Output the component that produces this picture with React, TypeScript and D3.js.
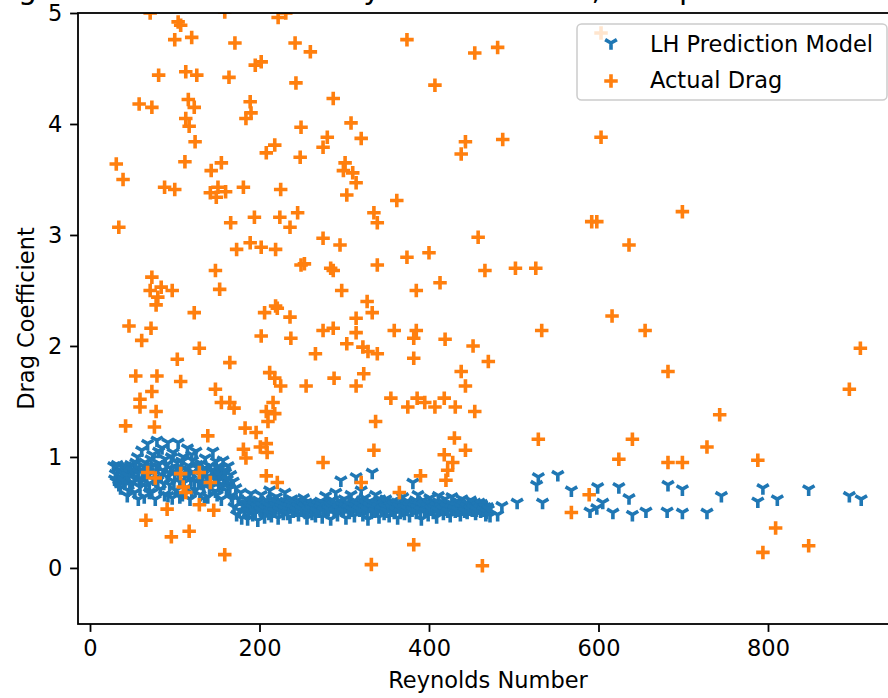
import React, { useRef, useEffect } from "react";
import * as d3 from "d3";

// LH prediction model: [Reynolds number, drag coefficient]
const lhPrediction: [number, number][] = [
  [28, 0.92], [30, 0.85], [31, 0.78], [33, 0.88], [35, 0.8], [36, 0.72], [38, 0.91], [40, 0.84],
  [41, 0.76], [43, 0.89], [45, 0.7], [46, 0.82], [48, 0.93], [50, 0.77], [51, 0.86], [53, 0.68],
  [55, 0.9], [56, 1.0], [58, 0.8], [59, 0.73], [61, 1.06], [62, 0.88], [64, 0.64], [65, 0.95],
  [67, 0.83], [68, 1.12], [70, 0.76], [71, 0.91], [73, 0.68], [74, 1.02], [76, 0.86], [77, 0.62],
  [79, 1.15], [80, 0.79], [82, 0.94], [83, 0.71], [85, 1.08], [86, 0.88], [88, 0.66], [89, 0.98],
  [91, 0.82], [92, 1.13], [94, 0.75], [95, 0.9], [97, 0.63], [98, 1.04], [100, 0.85], [101, 0.7],
  [103, 0.95], [104, 1.13], [106, 0.78], [107, 0.88], [109, 0.66], [110, 1.0], [112, 0.83], [113, 0.72],
  [115, 1.08], [116, 0.92], [118, 0.62], [119, 0.8], [121, 0.97], [122, 0.86], [124, 0.7], [125, 1.05],
  [127, 0.9], [128, 0.77], [130, 0.66], [131, 0.94], [133, 0.84], [134, 0.73], [136, 0.99], [137, 0.88],
  [139, 0.64], [140, 0.8], [142, 0.92], [143, 0.76], [145, 1.05], [146, 0.86], [148, 0.69], [149, 0.96],
  [151, 0.82], [152, 0.74], [154, 0.9], [155, 0.62], [157, 0.97], [158, 0.79], [160, 0.86], [161, 0.7],
  [163, 0.92], [164, 0.76], [166, 0.84], [167, 0.65], [169, 0.78], [170, 0.55], [172, 0.72], [173, 0.48],
  [175, 0.62], [176, 0.52], [178, 0.68], [179, 0.45], [181, 0.58],
  [29, 0.8], [32, 0.93], [34, 0.75], [37, 0.86], [39, 0.79], [42, 0.92], [44, 0.83], [47, 0.75],
  [49, 0.88], [52, 0.81], [54, 0.95], [57, 0.86], [60, 0.78], [63, 0.92], [66, 0.74], [69, 0.87],
  [72, 0.98], [75, 0.8], [78, 0.92], [81, 1.05], [84, 0.84], [87, 0.76], [90, 0.93], [93, 0.86],
  [96, 1.0], [99, 0.78], [102, 0.9], [105, 0.83], [108, 0.96], [111, 0.77], [114, 0.89], [117, 0.84],
  [120, 1.02], [123, 0.78], [126, 0.93], [129, 0.85], [132, 0.76], [135, 0.9], [138, 0.82], [141, 0.72],
  [144, 0.88], [147, 0.8], [150, 0.91], [153, 0.84], [156, 0.75], [159, 0.88], [162, 0.8], [165, 0.72],
  [168, 0.62], [44, 0.65], [57, 0.62], [70, 0.68], [92, 0.65], [106, 0.64], [120, 0.68], [135, 0.62],
  [150, 0.66],
  [182, 0.5], [184, 0.62], [186, 0.44], [188, 0.56], [190, 0.67], [192, 0.48], [194, 0.53], [196, 0.6],
  [198, 0.43], [200, 0.57], [202, 0.66], [204, 0.5], [206, 0.46], [208, 0.61], [210, 0.54], [212, 0.7],
  [214, 0.47], [216, 0.58], [218, 0.52], [220, 0.64], [222, 0.45], [224, 0.56], [226, 0.6], [228, 0.49],
  [230, 0.68], [232, 0.53], [234, 0.58], [236, 0.46], [238, 0.62], [240, 0.51], [242, 0.55], [244, 0.6],
  [246, 0.48], [248, 0.57], [250, 0.52], [252, 0.63], [254, 0.5], [256, 0.45], [258, 0.55], [260, 0.59],
  [262, 0.49], [264, 0.53], [266, 0.47], [268, 0.56], [270, 0.51], [272, 0.6], [274, 0.46], [276, 0.54],
  [278, 0.65], [280, 0.5], [282, 0.57], [284, 0.44], [286, 0.61], [288, 0.52], [290, 0.68], [292, 0.48],
  [294, 0.56], [296, 0.79], [298, 0.53], [300, 0.62], [302, 0.45], [304, 0.58], [306, 0.5], [308, 0.66],
  [310, 0.54], [312, 0.47], [314, 0.82], [316, 0.59], [318, 0.52], [320, 0.7], [322, 0.48], [324, 0.63],
  [326, 0.55], [328, 0.44], [330, 0.6], [332, 0.5], [333, 0.86], [335, 0.57], [337, 0.66], [339, 0.52],
  [341, 0.46], [343, 0.59], [345, 0.54], [347, 0.49], [349, 0.62], [351, 0.56], [353, 0.47], [355, 0.52],
  [357, 0.6], [359, 0.5], [361, 0.55], [363, 0.45], [365, 0.58], [367, 0.52], [369, 0.64], [371, 0.49],
  [373, 0.56], [375, 0.6], [377, 0.47], [379, 0.53], [381, 0.77], [383, 0.58], [385, 0.5], [387, 0.66],
  [389, 0.55], [391, 0.44], [393, 0.61], [395, 0.53], [397, 0.57], [399, 0.48], [401, 0.63], [403, 0.55],
  [405, 0.5], [407, 0.59], [409, 0.46], [411, 0.65], [413, 0.54], [415, 0.58], [417, 0.49], [419, 0.62],
  [421, 0.53], [423, 0.57], [425, 0.47], [427, 0.64], [429, 0.55], [431, 0.51], [433, 0.6], [435, 0.56],
  [437, 0.48], [439, 0.62], [441, 0.53], [443, 0.58], [445, 0.5], [447, 0.55], [449, 0.61], [451, 0.52],
  [453, 0.57], [455, 0.49], [457, 0.54], [459, 0.59], [461, 0.51], [463, 0.56], [465, 0.53], [467, 0.48],
  [469, 0.55],
  [183, 0.55], [185, 0.58], [187, 0.51], [189, 0.6], [191, 0.54], [193, 0.57], [195, 0.5], [197, 0.55],
  [199, 0.61], [201, 0.52], [203, 0.56], [205, 0.59], [207, 0.53], [209, 0.57], [211, 0.49], [213, 0.55],
  [215, 0.62], [217, 0.51], [219, 0.56], [221, 0.59], [223, 0.52], [225, 0.55], [227, 0.57], [229, 0.53],
  [231, 0.6], [233, 0.49], [235, 0.55], [237, 0.58], [239, 0.54], [241, 0.59], [243, 0.52], [245, 0.55],
  [247, 0.6], [249, 0.53], [251, 0.57], [253, 0.55], [255, 0.59], [257, 0.52], [259, 0.56], [261, 0.53],
  [263, 0.58], [265, 0.55], [267, 0.51], [269, 0.57], [271, 0.54], [273, 0.56], [275, 0.52], [277, 0.58],
  [279, 0.55], [281, 0.53], [283, 0.6], [285, 0.55], [287, 0.57], [289, 0.51], [291, 0.58], [293, 0.54],
  [295, 0.6], [297, 0.56], [299, 0.51], [301, 0.55], [303, 0.59], [305, 0.54], [307, 0.57], [309, 0.52],
  [311, 0.6], [313, 0.55], [315, 0.58], [317, 0.53], [319, 0.56], [321, 0.61], [323, 0.54], [325, 0.58],
  [327, 0.52], [329, 0.56], [331, 0.59], [334, 0.54], [336, 0.51], [338, 0.58], [340, 0.55], [342, 0.62],
  [344, 0.53], [346, 0.57], [348, 0.55], [350, 0.51], [352, 0.59], [354, 0.56], [356, 0.54], [358, 0.57],
  [360, 0.52], [362, 0.58], [364, 0.55], [366, 0.5], [368, 0.57], [370, 0.54], [372, 0.59], [374, 0.53],
  [376, 0.56], [378, 0.58], [380, 0.52], [382, 0.55], [384, 0.61], [386, 0.54], [388, 0.57], [390, 0.52],
  [392, 0.56], [394, 0.58], [396, 0.51], [398, 0.55], [400, 0.59], [402, 0.53], [404, 0.57], [406, 0.54],
  [408, 0.56], [410, 0.52], [412, 0.59], [414, 0.55], [416, 0.53], [418, 0.57], [420, 0.55], [422, 0.51],
  [424, 0.58], [426, 0.54], [428, 0.57], [430, 0.53], [432, 0.56], [434, 0.52], [436, 0.59], [438, 0.55],
  [440, 0.57], [442, 0.51], [444, 0.55], [446, 0.58], [448, 0.53], [450, 0.56], [452, 0.54], [454, 0.59],
  [456, 0.52], [458, 0.56], [460, 0.54], [462, 0.58], [464, 0.52], [466, 0.55], [468, 0.5], [470, 0.53],
  [472, 0.47], [481, 0.48], [486, 0.56], [504, 0.59], [527, 0.75], [529, 0.82], [534, 0.59], [552, 0.84],
  [568, 0.7], [590, 0.51], [598, 0.54], [599, 0.73], [605, 0.59], [617, 0.5], [624, 0.73], [636, 0.63],
  [640, 0.48], [656, 0.51], [682, 0.75], [699, 0.71], [681, 0.51], [699, 0.5], [728, 0.5], [745, 0.65],
  [794, 0.72], [788, 0.6], [811, 0.62], [848, 0.71], [896, 0.65], [910, 0.62],
];

// measured drag: [Reynolds number, drag coefficient]
const actualDrag: [number, number][] = [
  [71, 5.0], [159, 5.01], [104, 4.92], [107, 4.89], [222, 4.96], [231, 5.0], [100, 4.76], [120, 4.78],
  [171, 4.73], [242, 4.73], [260, 4.65], [374, 4.76], [454, 4.64], [481, 4.69], [195, 4.53], [202, 4.56],
  [81, 4.44], [113, 4.47], [126, 4.44], [164, 4.42], [243, 4.37], [407, 4.35], [287, 4.23], [58, 4.18],
  [73, 4.15], [116, 4.22], [123, 4.15], [189, 4.2], [190, 4.1], [184, 4.05], [113, 4.05], [117, 3.98],
  [308, 4.01], [249, 3.97], [280, 3.88], [275, 3.79], [320, 3.87], [443, 3.84], [438, 3.73], [487, 3.86],
  [124, 3.84], [218, 3.81], [208, 3.74], [248, 3.7], [31, 3.64], [39, 3.5], [112, 3.66], [155, 3.65],
  [143, 3.58], [301, 3.65], [299, 3.58], [310, 3.56], [314, 3.47], [303, 3.36], [88, 3.43], [100, 3.41],
  [151, 3.43], [142, 3.38], [160, 3.39], [149, 3.34], [181, 3.43], [225, 3.41], [362, 3.31], [34, 3.07],
  [166, 3.11], [194, 3.16], [224, 3.16], [245, 3.2], [236, 3.07], [335, 3.2], [339, 3.11], [458, 2.98],
  [275, 2.97], [295, 2.91], [173, 2.87], [189, 2.93], [202, 2.89], [219, 2.87], [253, 2.74], [249, 2.73],
  [284, 2.7], [287, 2.68], [339, 2.73], [374, 2.8], [400, 2.84], [466, 2.68], [502, 2.7], [526, 2.7],
  [73, 2.62], [71, 2.5], [84, 2.53], [97, 2.5], [80, 2.44], [78, 2.37], [148, 2.68], [153, 2.51],
  [297, 2.5], [385, 2.5], [413, 2.57], [327, 2.4], [219, 2.36], [123, 2.3], [206, 2.3], [221, 2.34],
  [236, 2.26], [333, 2.3], [314, 2.25], [314, 2.12], [46, 2.18], [72, 2.16], [61, 2.05], [129, 1.98],
  [202, 2.09], [237, 2.07], [275, 2.14], [287, 2.16], [303, 2.02], [322, 1.99], [328, 1.95], [339, 1.93],
  [359, 2.14], [385, 2.14], [382, 2.07], [419, 2.06], [452, 2.0], [470, 1.86], [103, 1.88], [165, 1.85],
  [266, 1.93], [382, 1.89], [54, 1.73], [79, 1.73], [107, 1.68], [73, 1.59], [59, 1.52], [59, 1.45],
  [78, 1.41], [148, 1.61], [155, 1.49], [165, 1.49], [170, 1.44], [212, 1.76], [218, 1.71], [225, 1.64],
  [255, 1.64], [288, 1.71], [323, 1.75], [314, 1.64], [438, 1.77], [443, 1.64], [355, 1.53], [375, 1.45],
  [386, 1.53], [395, 1.49], [407, 1.45], [418, 1.53], [431, 1.45], [454, 1.41], [216, 1.49], [208, 1.41],
  [218, 1.39], [210, 1.32], [42, 1.28], [76, 1.27], [139, 1.19], [183, 1.26], [196, 1.22], [337, 1.32],
  [430, 1.17], [443, 1.06], [181, 1.07], [184, 0.99], [201, 1.09], [208, 1.12], [209, 1.04], [335, 1.06],
  [275, 0.95], [418, 1.02], [428, 0.95], [422, 0.88], [68, 0.86], [77, 0.81], [107, 0.85], [110, 0.73],
  [113, 0.68], [129, 0.86], [142, 0.77], [208, 0.83], [221, 0.77], [320, 0.77], [390, 0.83], [420, 0.79],
  [365, 0.68], [91, 0.53], [129, 0.57], [146, 0.52], [66, 0.43], [96, 0.28], [117, 0.33], [159, 0.12],
  [382, 0.21], [332, 0.03], [463, 0.02], [529, 1.16], [533, 2.14], [568, 0.5], [589, 0.66], [592, 3.12],
  [598, 3.12], [603, 3.88], [603, 4.82], [616, 2.27], [636, 2.91], [655, 2.14], [640, 1.16], [624, 0.98],
  [682, 1.77], [699, 3.21], [743, 1.38], [728, 1.09], [682, 0.95], [699, 0.95], [788, 0.97], [809, 0.36],
  [794, 0.14], [848, 0.2], [896, 1.61], [909, 1.98],
];

const xTicks = [0, 200, 400, 600, 800];
const yTicks = [0, 1, 2, 3, 4, 5];
const seriesNames = ["LH Prediction Model", "Actual Drag"];

const BLUE = "#1f77b4";
const ORANGE = "#ff7f0e";
const FONT = "DejaVu Sans, sans-serif";
const FS = 22.5;
const R = 6.75; // half marker size
const LW = 3.6;

// tri_down marker
const triDown = (r: number) =>
  `M0,0L0,${r}M0,0L${0.866 * r},${-0.5 * r}M0,0L${-0.866 * r},${-0.5 * r}`;
const plus = (r: number) => `M${-r},0L${r},0M0,${-r}L0,${r}`;

export default function App() {
  const ref = useRef<SVGSVGElement>(null);

  useEffect(() => {
    const svg = d3.select(ref.current);
    svg.selectAll("*").remove();

    const left = 78, right = 898, top = 13, bottom = 624;
    const x = d3.scaleLinear().domain([-14.16, 953.4]).range([left, right]);
    const y = d3.scaleLinear().domain([-0.505, 5]).range([bottom, top]);

    // title (mostly above the visible area)
    svg.append("text")
      .attr("x", (left + right) / 2)
      .attr("y", -1)
      .attr("text-anchor", "middle")
      .attr("font-family", FONT)
      .attr("font-size", 30)
      .attr("fill", "#000")
      .text("Drag Coefficient versus Reynolds Number, Comparison with LH Model");

    svg.append("clipPath").attr("id", "plot-clip")
      .append("rect")
      .attr("x", left).attr("y", top)
      .attr("width", right - left).attr("height", bottom - top);

    const plot = svg.append("g").attr("clip-path", "url(#plot-clip)");

    plot.append("g")
      .selectAll("path")
      .data(lhPrediction)
      .join("path")
      .attr("transform", (d) => `translate(${x(d[0])},${y(d[1])})`)
      .attr("d", triDown(R))
      .attr("fill", "none")
      .attr("stroke", BLUE)
      .attr("stroke-width", LW);

    plot.append("g")
      .selectAll("path")
      .data(actualDrag)
      .join("path")
      .attr("transform", (d) => `translate(${x(d[0])},${y(d[1])})`)
      .attr("d", plus(R))
      .attr("fill", "none")
      .attr("stroke", ORANGE)
      .attr("stroke-width", LW);

    // axes
    const xAxis = svg.append("g")
      .attr("transform", `translate(0,${bottom})`)
      .call(d3.axisBottom(x).tickValues(xTicks).tickFormat(d3.format("d")).tickSize(7.9).tickPadding(7.9).tickSizeOuter(0));
    const yAxis = svg.append("g")
      .attr("transform", `translate(${left},0)`)
      .call(d3.axisLeft(y).tickValues(yTicks).tickFormat(d3.format("d")).tickSize(7.9).tickPadding(7.9).tickSizeOuter(0));

    [xAxis, yAxis].forEach((g) => {
      g.select(".domain").remove();
      g.selectAll("line").attr("stroke", "#000").attr("stroke-width", 1.8);
      g.selectAll("text")
        .attr("font-family", FONT)
        .attr("font-size", FS)
        .attr("fill", "#000");
    });

    // spines
    svg.append("rect")
      .attr("x", left).attr("y", top)
      .attr("width", right - left).attr("height", bottom - top)
      .attr("fill", "none")
      .attr("stroke", "#000")
      .attr("stroke-width", 1.8);

    svg.append("text")
      .attr("x", (left + right) / 2)
      .attr("y", 688)
      .attr("text-anchor", "middle")
      .attr("font-family", FONT)
      .attr("font-size", FS)
      .attr("fill", "#000")
      .text("Reynolds Number");

    svg.append("text")
      .attr("transform", `translate(34,${(top + bottom) / 2}) rotate(-90)`)
      .attr("text-anchor", "middle")
      .attr("font-family", FONT)
      .attr("font-size", FS)
      .attr("fill", "#000")
      .text("Drag Coefficient");

    // legend
    const lg = svg.append("g");
    lg.append("rect")
      .attr("x", 577).attr("y", 24)
      .attr("width", 310).attr("height", 76)
      .attr("rx", 4.5)
      .attr("fill", "#fff")
      .attr("fill-opacity", 0.8)
      .attr("stroke", "#cccccc")
      .attr("stroke-width", 1.5);
    const rows = [
      { name: seriesNames[0], d: triDown(R), color: BLUE, cy: 43, base: 52 },
      { name: seriesNames[1], d: plus(R), color: ORANGE, cy: 81, base: 88 },
    ];
    rows.forEach((r) => {
      lg.append("path")
        .attr("transform", `translate(611,${r.cy})`)
        .attr("d", r.d)
        .attr("fill", "none")
        .attr("stroke", r.color)
        .attr("stroke-width", LW);
      lg.append("text")
        .attr("x", 650)
        .attr("y", r.base)
        .attr("font-family", FONT)
        .attr("font-size", FS)
        .attr("fill", "#000")
        .text(r.name);
    });
  }, []);

  return (
    <svg
      ref={ref}
      width={888}
      height={698}
      style={{ position: "absolute", left: 0, top: 0, background: "#fff" }}
    />
  );
}
